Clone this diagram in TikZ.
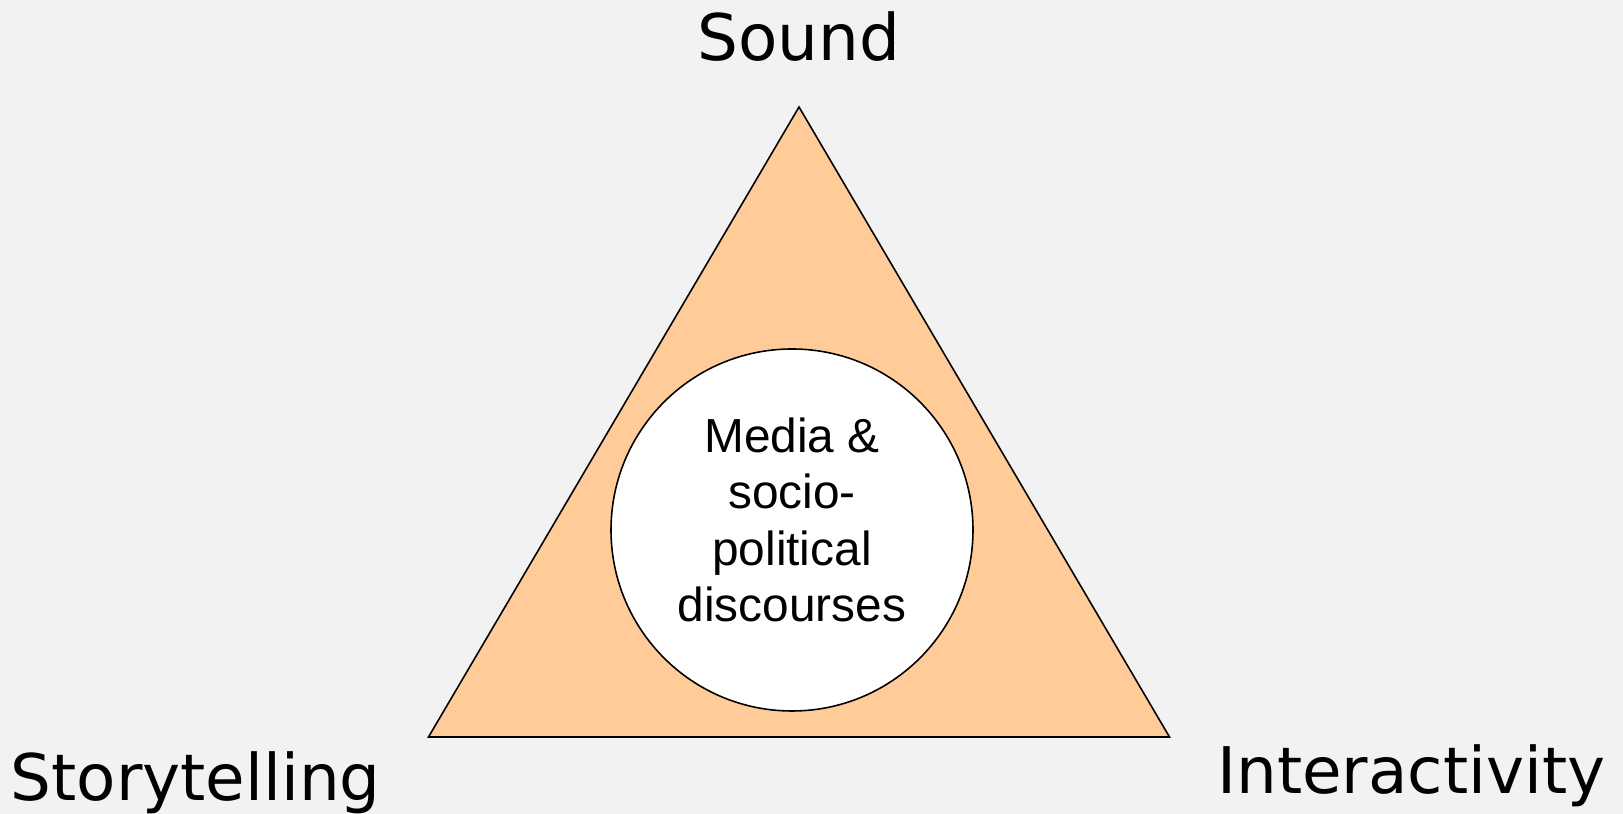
\documentclass[tikz,border=0pt]{standalone}
\usepackage{fontspec}
\setmainfont{DejaVu Sans}
\newfontfamily\arialfont{Liberation Sans}
\usetikzlibrary{shapes,arrows,positioning}
\definecolor{bgrey}{HTML}{F2F2F2}
\definecolor{peach}{HTML}{FFCC99}
\tikzstyle{corner} = [inner sep=0pt, font=\fontsize{18.3}{22}\selectfont]
\tikzstyle{hub} = [circle, draw, fill=white, line width=0.45pt, minimum size=36.2mm, inner sep=0pt]
\tikzstyle{hubtext} = [align=center, inner sep=0pt, font=\arialfont\fontsize{13.6}{16.1}\selectfont]
\tikzstyle{tri} = [draw, fill=peach, line width=0.45pt, line join=miter]

\begin{document}
\begin{tikzpicture}[x=0.1mm, y=-0.1mm]
			\fill [bgrey] (0,0) rectangle (1623,814);
			\useasboundingbox (0,0) rectangle (1623,814);
			\coordinate (top) at (799,107);
			\coordinate (left) at (428.5,737);
			\coordinate (right) at (1169.5,737);
			
			\path [tri] (top) -- (left) -- (right) -- cycle;
			\node [hub] (mid) at (792,530) {};
			\node [hubtext] (midtext) at (792,520) {Media \&\\socio-\\political\\discourses};
			
			\node [corner, anchor=base] (sound) at (799,61) {Sound};
			\node [corner, anchor=base west] (story) at (10,801) {Storytelling};
			\node [corner, anchor=base east] (inter) at (1606,794) {Interactivity};
		\end{tikzpicture}
\end{document}
